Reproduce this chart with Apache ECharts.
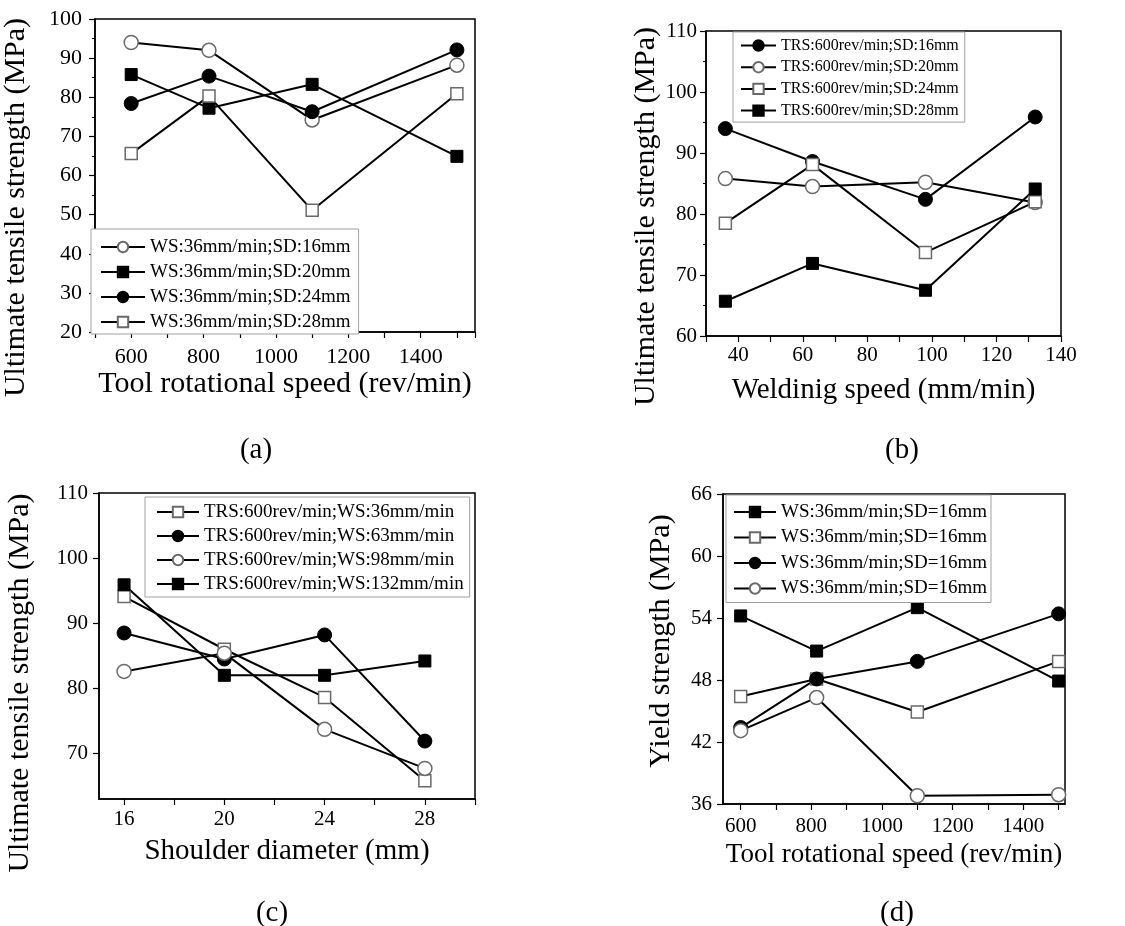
<!DOCTYPE html>
<html><head><meta charset="utf-8">
<script src="https://cdn.jsdelivr.net/npm/echarts@6.0.0/dist/echarts.min.js"></script>
<style>html,body{margin:0;padding:0;background:#fff}#c{width:1125px;height:926px}</style>
</head><body><div id="c"></div><script>
// ---- Panel (a): UTS vs tool rotational speed ----
const aX = [600, 815, 1100, 1500];
const aNames = ['WS:36mm/min;SD:16mm', 'WS:36mm/min;SD:20mm', 'WS:36mm/min;SD:24mm', 'WS:36mm/min;SD:28mm'];
const aSD16 = [94.0, 92.0, 74.2, 88.2];
const aSD20 = [85.8, 77.2, 83.3, 64.9];
const aSD24 = [78.4, 85.4, 76.3, 92.1];
const aSD28 = [65.6, 80.3, 51.1, 80.9];
// ---- Panel (b): UTS vs welding speed ----
const bX = [36, 63, 98, 132];
const bNames = ['TRS:600rev/min;SD:16mm', 'TRS:600rev/min;SD:20mm', 'TRS:600rev/min;SD:24mm', 'TRS:600rev/min;SD:28mm'];
const bSD16 = [94.0, 88.6, 82.4, 95.9];
const bSD20 = [85.8, 84.5, 85.2, 81.9];
const bSD24 = [78.5, 88.1, 73.7, 82.0];
const bSD28 = [65.7, 71.9, 67.5, 84.1];
// ---- Panel (c): UTS vs shoulder diameter ----
const cX = [16, 20, 24, 28];
const cNames = ['TRS:600rev/min;WS:36mm/min', 'TRS:600rev/min;WS:63mm/min', 'TRS:600rev/min;WS:98mm/min', 'TRS:600rev/min;WS:132mm/min'];
const cWS36 = [94.1, 86.0, 78.6, 65.8];
const cWS63 = [88.5, 84.5, 88.2, 71.9];
const cWS98 = [82.6, 85.4, 73.7, 67.7];
const cWS132 = [95.9, 82.0, 82.0, 84.2];
// ---- Panel (d): yield strength vs tool rotational speed ----
const dX = [600, 815, 1100, 1500];
const dNames = ['WS:36mm/min;SD=16mm', 'WS:36mm/min;SD=16mm', 'WS:36mm/min;SD=16mm', 'WS:36mm/min;SD=16mm'];
const dS1 = [54.2, 50.8, 55.0, 47.9];
const dS2 = [46.4, 48.1, 44.9, 49.8];
const dS3 = [43.4, 48.1, 49.8, 54.4];
const dS4 = [43.1, 46.3, 36.8, 36.9];
// tick label values
const aXLabels = [600, 800, 1000, 1200, 1400];
const bXLabels = [40, 60, 80, 100, 120, 140];
const cXLabels = [16, 20, 24, 28];
const cXTicks = [16, 18, 20, 22, 24, 26, 28, 30];
const cYLabels = [70, 80, 90, 100, 110];
const dXLabels = [600, 800, 1000, 1200, 1400];
const dXTicks = [600, 700, 800, 900, 1000, 1100, 1200, 1300, 1400, 1500];
const captions = ['(a)', '(b)', '(c)', '(d)'];

const FONT = 'Liberation Serif, Times New Roman, serif';
const chart = echarts.init(document.getElementById('c'), null, {renderer: 'canvas'});

function ser(idx, name, xs, ys, sym, filled) {
  return {
    type: 'line', name: name, xAxisIndex: idx, yAxisIndex: idx,
    data: xs.map((x, j) => [x, ys[j]]),
    symbol: sym, symbolSize: sym === 'rect' ? 12 : 14,
    lineStyle: {color: '#000', width: 2},
    itemStyle: filled ? {color: '#000', borderColor: '#000', borderWidth: 1}
                      : {color: '#fff', borderColor: '#6a6a6a', borderWidth: 1.5},
    emphasis: {disabled: true},
    animation: false
  };
}
function xAx(idx, min, max, opts) {
  return Object.assign({
    type: 'value', gridIndex: idx, min: min, max: max,
    axisLine: {onZero: false, lineStyle: {color: '#000', width: 1.5}},
    axisTick: {show: true, length: 6, lineStyle: {color: '#000', width: 1.2}},
    splitLine: {show: false},
    axisLabel: {color: '#000', fontFamily: FONT, fontSize: 21},
    nameLocation: 'middle',
    nameTextStyle: {color: '#000', fontFamily: FONT, fontSize: 29}
  }, opts);
}
function yAx(idx, min, max, opts) {
  return Object.assign({
    type: 'value', gridIndex: idx, min: min, max: max,
    axisLine: {show: true, onZero: false, lineStyle: {color: '#000', width: 1.5}},
    axisTick: {show: true, length: 6, lineStyle: {color: '#000', width: 1.2}},
    splitLine: {show: false},
    axisLabel: {color: '#000', fontFamily: FONT, fontSize: 21},
    nameLocation: 'middle',
    nameTextStyle: {color: '#000', fontFamily: FONT, fontSize: 30}
  }, opts);
}
function leg(left, top, names, fs, lh, gap, pad, iw) {
  return {
    orient: 'vertical', left: left, top: top, data: names.map(n => ({name: n})),
    padding: pad, itemGap: gap, itemWidth: iw, itemHeight: 13,
    borderColor: '#a0a0a0', borderWidth: 1, backgroundColor: '#fff',
    selectedMode: false,
    textStyle: {color: '#000', fontFamily: FONT, fontSize: fs, lineHeight: lh}
  };
}
const plain = v => String(v);
const dIds = ['d-1', 'd-2', 'd-3', 'd-4'];

const option = {
  backgroundColor: '#fff',
  animation: false,
  grid: [
    {left: 89, top: 19, width: 386, height: 313, show: true, borderColor: '#000', borderWidth: 1.5},
    {left: 706, top: 31, width: 355, height: 305, show: true, borderColor: '#000', borderWidth: 1.5},
    {left: 99, top: 493, width: 376, height: 306, show: true, borderColor: '#000', borderWidth: 1.5},
    {left: 723, top: 494, width: 342, height: 310, show: true, borderColor: '#000', borderWidth: 1.5}
  ],
  xAxis: [
    xAx(0, 500, 1550, {interval: 100,
      axisLabel: {color: '#000', fontFamily: FONT, fontSize: 22, margin: 14,
        formatter: v => aXLabels.indexOf(v) >= 0 ? String(v) : ''},
      name: 'Tool rotational speed (rev/min)', nameGap: 32,
      nameTextStyle: {color: '#000', fontFamily: FONT, fontSize: 30}}),
    xAx(1, 30, 140, {interval: 10,
      axisLabel: {color: '#000', fontFamily: FONT, fontSize: 21, margin: 9,
        formatter: v => bXLabels.indexOf(v) >= 0 ? String(v) : ''},
      name: 'Weldinig speed (mm/min)', nameGap: 40}),
    xAx(2, 15, 30, {
      axisTick: {show: true, length: 6, customValues: cXTicks, lineStyle: {color: '#000', width: 1.2}},
      axisLabel: {color: '#000', fontFamily: FONT, fontSize: 21, margin: 10, customValues: cXLabels, formatter: plain},
      name: 'Shoulder diameter (mm)', nameGap: 38}),
    xAx(3, 550, 1518, {
      axisTick: {show: true, length: 6, customValues: dXTicks, lineStyle: {color: '#000', width: 1.2}},
      axisLabel: {color: '#000', fontFamily: FONT, fontSize: 21, margin: 12, customValues: dXLabels, formatter: plain},
      name: 'Tool rotational speed (rev/min)', nameGap: 37,
      nameTextStyle: {color: '#000', fontFamily: FONT, fontSize: 27}})
  ],
  yAxis: [
    yAx(0, 20, 100, {interval: 10, minorTick: {show: true, splitNumber: 2, length: 3, lineStyle: {color: '#000'}},
      axisLabel: {color: '#000', fontFamily: FONT, fontSize: 22, margin: 13},
      name: 'Ultimate tensile strength (MPa)', nameGap: 64,
      nameTextStyle: {color: '#000', fontFamily: FONT, fontSize: 30, padding: [0, 64, 0, 0]}}),
    yAx(1, 60, 110, {interval: 10, minorTick: {show: true, splitNumber: 2, length: 3, lineStyle: {color: '#000'}},
      axisLabel: {color: '#000', fontFamily: FONT, fontSize: 21, margin: 9},
      name: 'Ultimate tensile strength (MPa)', nameGap: 45,
      nameTextStyle: {color: '#000', fontFamily: FONT, fontSize: 30, padding: [0, 66, 0, 0]}}),
    yAx(2, 63, 110, {
      axisTick: {show: true, length: 6, customValues: cYLabels, lineStyle: {color: '#000', width: 1.2}},
      axisLabel: {color: '#000', fontFamily: FONT, fontSize: 21, margin: 11, customValues: cYLabels, formatter: plain},
      name: 'Ultimate tensile strength (MPa)', nameGap: 64,
      nameTextStyle: {color: '#000', fontFamily: FONT, fontSize: 30, padding: [0, 74, 0, 0]}}),
    yAx(3, 36, 66, {interval: 6,
      axisLabel: {color: '#000', fontFamily: FONT, fontSize: 21, margin: 11},
      name: 'Yield strength (MPa)', nameGap: 47,
      nameTextStyle: {color: '#000', fontFamily: FONT, fontSize: 30, padding: [0, 0, 0, 16]}})
  ],
  legend: [
    leg(91, 229, aNames, 19, 20, 5, [8, 8, 2, 9], 44),
    leg(733, 32, bNames, 16, 17, 4.7, [5, 6, 3, 7], 35),
    leg(145, 497, cNames, 19, 20, 4, [5, 6, 3, 11], 42),
    Object.assign(leg(726, 495, dIds, 19, 20, 5.5, [7, 4, 4, 7], 42),
      {formatter: n => dNames[dIds.indexOf(n)]})
  ],
  series: [
    ser(0, aNames[0], aX, aSD16, 'circle', false),
    ser(0, aNames[1], aX, aSD20, 'rect', true),
    ser(0, aNames[2], aX, aSD24, 'circle', true),
    ser(0, aNames[3], aX, aSD28, 'rect', false),
    ser(1, bNames[0], bX, bSD16, 'circle', true),
    ser(1, bNames[1], bX, bSD20, 'circle', false),
    ser(1, bNames[2], bX, bSD24, 'rect', false),
    ser(1, bNames[3], bX, bSD28, 'rect', true),
    ser(2, cNames[0], cX, cWS36, 'rect', false),
    ser(2, cNames[1], cX, cWS63, 'circle', true),
    ser(2, cNames[2], cX, cWS98, 'circle', false),
    ser(2, cNames[3], cX, cWS132, 'rect', true),
    ser(3, dIds[0], dX, dS1, 'rect', true),
    ser(3, dIds[1], dX, dS2, 'rect', false),
    ser(3, dIds[2], dX, dS3, 'circle', true),
    ser(3, dIds[3], dX, dS4, 'circle', false)
  ],
  graphic: [
    {type: 'text', x: 256, y: 450, style: {text: captions[0], font: '29px ' + FONT, fill: '#000', align: 'center', verticalAlign: 'middle'}},
    {type: 'text', x: 902, y: 450, style: {text: captions[1], font: '29px ' + FONT, fill: '#000', align: 'center', verticalAlign: 'middle'}},
    {type: 'text', x: 272, y: 913, style: {text: captions[2], font: '29px ' + FONT, fill: '#000', align: 'center', verticalAlign: 'middle'}},
    {type: 'text', x: 897, y: 913, style: {text: captions[3], font: '29px ' + FONT, fill: '#000', align: 'center', verticalAlign: 'middle'}}
  ]
};
chart.setOption(option);
</script></body></html>
